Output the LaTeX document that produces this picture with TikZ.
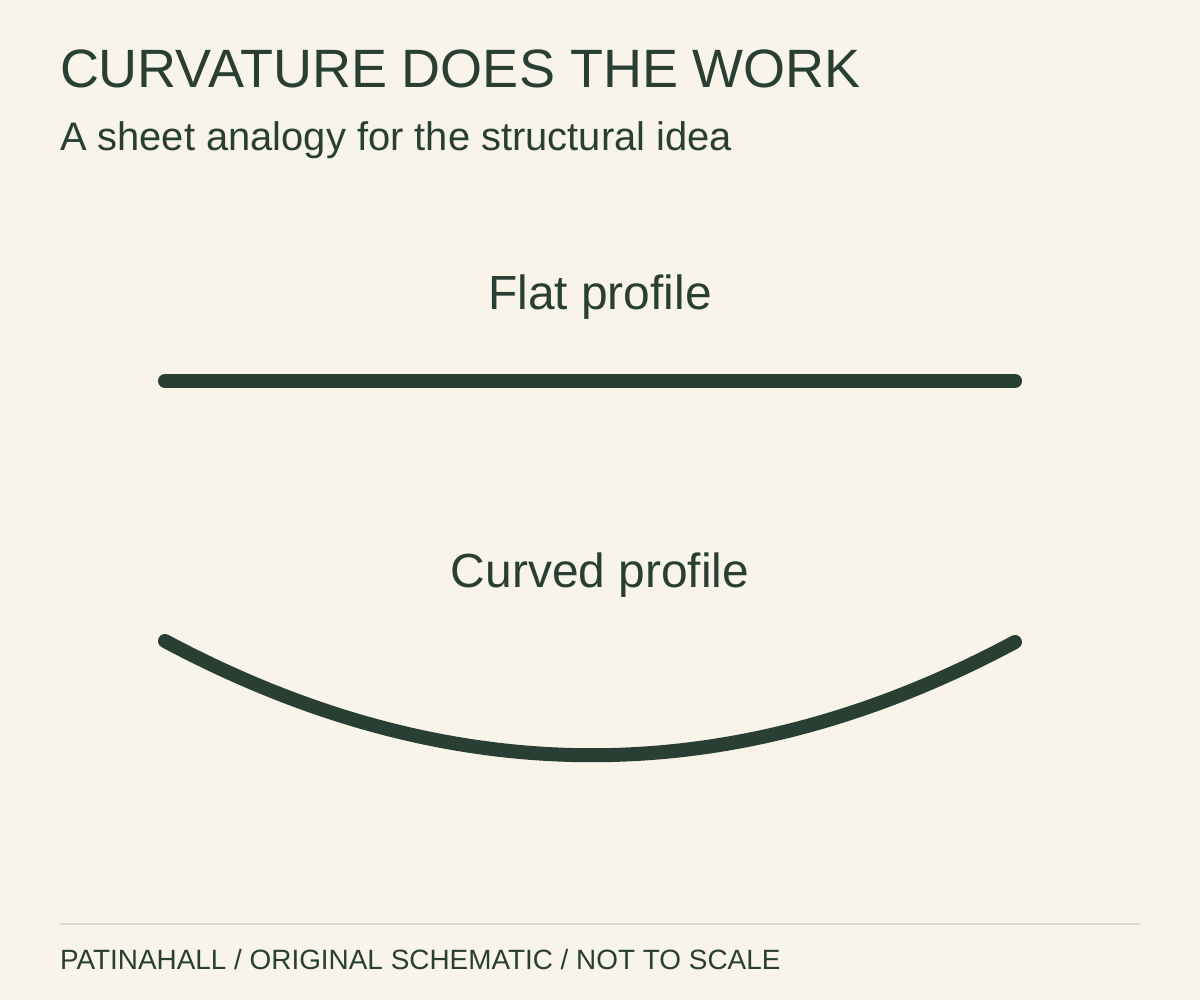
\documentclass[tikz,border=0pt]{standalone}
\usepackage{fontspec}
\setmainfont{Liberation Sans}
\definecolor{bgc}{HTML}{F8F4EA}
\definecolor{ink}{HTML}{2A3F33}
\definecolor{rule}{HTML}{DAD8CE}
\begin{document}
\begin{tikzpicture}[x=1pt,y=-1pt,
  txt/.style={inner sep=0pt,outer sep=0pt,text=ink},
  sheet/.style={draw=ink,line width=14pt,line cap=round}]
\fill[bgc] (0,0) rectangle (1200,1000);
\useasboundingbox (0,0) rectangle (1200,1000);
\node[txt,anchor=base west,font=\fontsize{54}{60}\selectfont] (title) at (60,88) {CURVATURE DOES THE WORK};
\node[txt,anchor=base west,font=\fontsize{39.9}{46}\selectfont] (sub) at (60,151) {A sheet analogy for the structural idea};
\node[txt,anchor=base,font=\fontsize{47.9}{54}\selectfont] (flatlbl) at (600,310) {Flat profile};
\node[txt,anchor=base,font=\fontsize{47.9}{54}\selectfont] (curvlbl) at (600,587) {Curved profile};
\coordinate (fa) at (165,381);
\coordinate (fb) at (1015,381);
\coordinate (ca) at (165,641);
\coordinate (c1) at (449.7,793);
\coordinate (c2) at (733,793.3);
\coordinate (cb) at (1015,642);
\draw[sheet] (fa) -- (fb);
\draw[sheet] (ca) .. controls (c1) and (c2) .. (cb);
\coordinate (ra) at (60,924);
\coordinate (rb) at (1140,924);
\draw[rule,line width=1.5pt] (ra) -- (rb);
\node[txt,anchor=base west,font=\fontsize{27.9}{32}\selectfont] (foot) at (60,969) {PATINAHALL / ORIGINAL SCHEMATIC / NOT TO SCALE};
\end{tikzpicture}
\end{document}
